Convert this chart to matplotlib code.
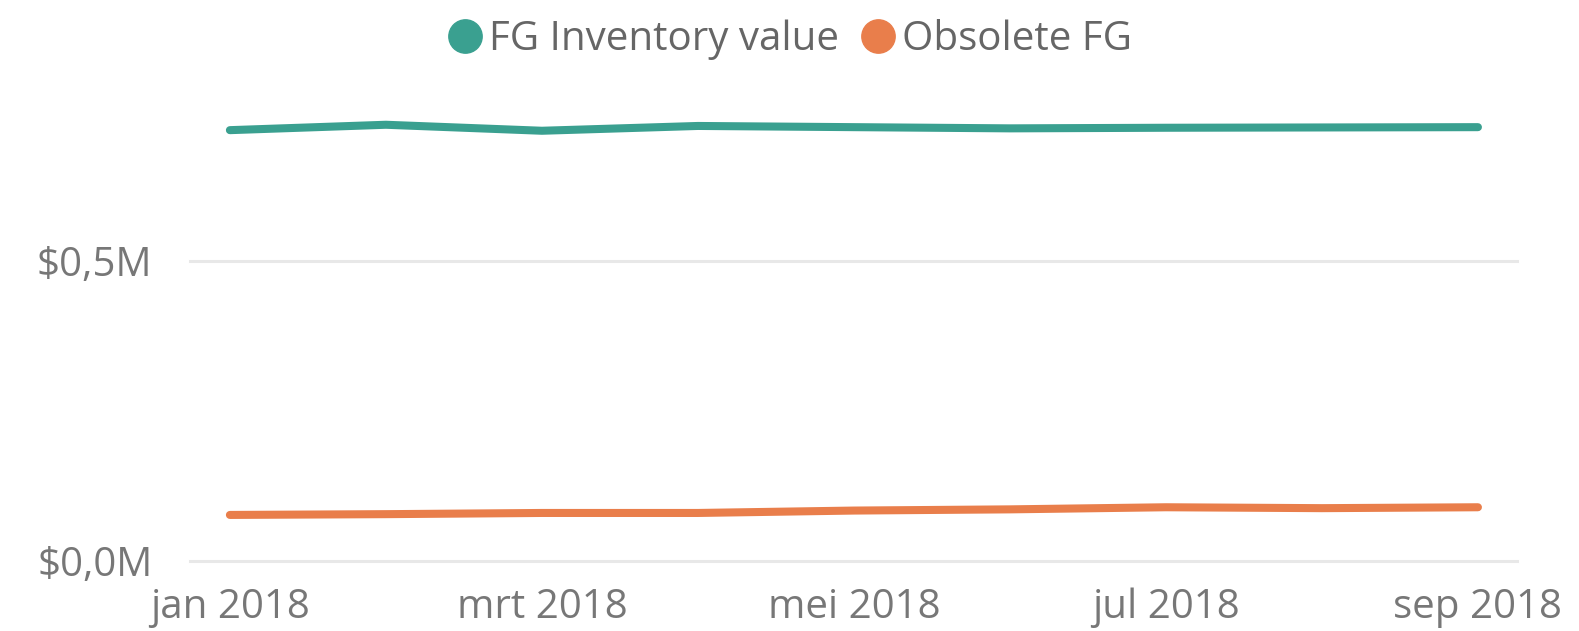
import numpy as np
import matplotlib
matplotlib.use("Agg")
import matplotlib.pyplot as plt
from matplotlib.lines import Line2D

months = ["jan 2018", "feb 2018", "mrt 2018", "apr 2018", "mei 2018",
          "jun 2018", "jul 2018", "aug 2018", "sep 2018"]
fg_inventory = [0.718, 0.727, 0.717, 0.725, 0.723, 0.721, 0.722, 0.7225, 0.723]  # $M
obsolete_fg = [0.0767, 0.078, 0.080, 0.080, 0.084, 0.086, 0.0895, 0.088, 0.0895]  # $M
ytick_vals = [0.0, 0.5]
ytick_labels = ["$0,0M", "$0,5M"]

teal = "#3AA090"
orange = "#E97E4B"

plt.rcParams['font.family'] = ['Open Sans', 'DejaVu Sans']

fig = plt.figure(figsize=(15.79, 6.31), dpi=100)
ax = fig.add_axes([0.1203, 0.111, 0.8404, 0.7607])

x = np.arange(len(months))
ax.plot(x, fg_inventory, color=teal, lw=5.8, solid_capstyle='round', solid_joinstyle='round')
ax.plot(x, obsolete_fg, color=orange, lw=5.8, solid_capstyle='round', solid_joinstyle='round')

ax.set_xlim(-0.256, 8.25)
ax.set_ylim(0, 0.8)
ax.set_yticks(ytick_vals)
ax.set_yticklabels(ytick_labels)
ax.set_xticks(x[::2])
ax.set_xticklabels(months[::2])

ax.grid(axis='y', color='#e8e8e8', lw=2.2)
for gl in ax.get_ygridlines():
    gl.set_clip_on(False)
ax.set_axisbelow(True)
for s in ax.spines.values():
    s.set_visible(False)
ax.tick_params(axis='both', length=0, labelsize=29, labelcolor='#777777')
ax.tick_params(axis='y', pad=27)
ax.tick_params(axis='x', pad=19)

handles = [Line2D([], [], marker='o', ls='none', ms=24, color=teal),
           Line2D([], [], marker='o', ls='none', ms=24, color=orange)]
fig.legend(handles, ["FG Inventory value", "Obsolete FG"], loc='center',
           bbox_to_anchor=(0.5, 0.937), ncol=2, frameon=False, fontsize=29,
           labelcolor='#666666', handlelength=0.9, handletextpad=0.15,
           columnspacing=0.5)

plt.savefig("out.png", dpi=100)
